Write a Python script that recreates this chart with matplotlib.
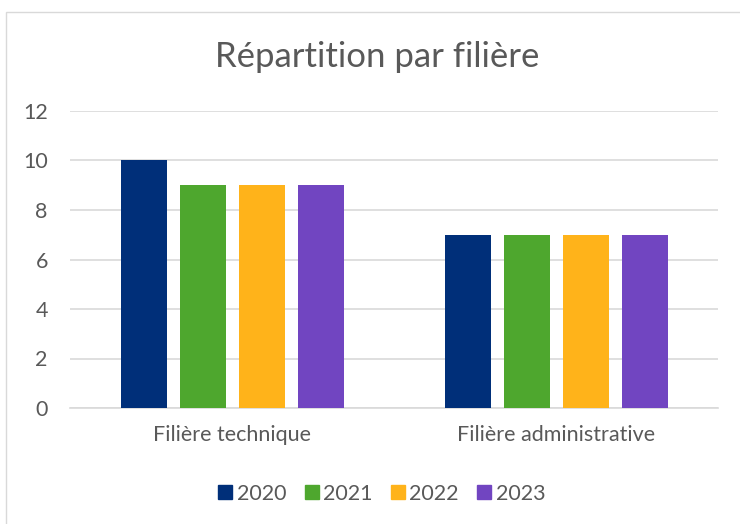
import matplotlib
matplotlib.use("Agg")
import matplotlib.pyplot as plt
import numpy as np
from matplotlib.patches import Rectangle
from matplotlib.lines import Line2D

categories = ["Filière technique", "Filière administrative"]
years = ["2020", "2021", "2022", "2023"]
values = {
    "2020": [10, 7],
    "2021": [9, 7],
    "2022": [9, 7],
    "2023": [9, 7],
}
colors = ["#002F79", "#4EA72E", "#FFB31A", "#7145C1"]
yticks = [0, 2, 4, 6, 8, 10, 12]

plt.rcParams['font.family'] = ['Lato', 'DejaVu Sans']
W, H = 740, 524
fig = plt.figure(figsize=(W/100, H/100), dpi=100)

# chart border
fig.patches.append(Rectangle((6/W, -0.1), 2.0, (1 - 12/H) + 0.1, transform=fig.transFigure,
                             fill=False, edgecolor="#D9D9D9", linewidth=1.0))

x0, x1 = 70, 718
y0, y12 = 408, 111
ax = fig.add_axes([x0/W, (H - y0)/H, (x1 - x0)/W, (y0 - y12)/H])

x = np.arange(len(categories))
bw = 46/324
step = 59/324
for i, (yr, c) in enumerate(zip(years, colors)):
    ax.bar(x + (i - 1.5)*step, values[yr], width=bw, color=c, zorder=3, label=yr)

ax.set_xlim(-0.5, 1.5)
ax.set_ylim(0, 12)
ax.set_yticks(yticks)
ax.set_yticklabels([str(t) for t in yticks])
ax.set_xticks(x)
ax.set_xticklabels(categories)
ax.grid(axis='y', color="#D9D9D9", linewidth=1.2, zorder=0)
for s in ["top", "right", "left"]:
    ax.spines[s].set_visible(False)
ax.spines["bottom"].set_color("#D9D9D9")
ax.spines["bottom"].set_linewidth(1.2)
ax.tick_params(axis='both', length=0, labelsize=15.5, colors="#595959")
ax.tick_params(axis='y', pad=16)
ax.tick_params(axis='x', pad=12)

fig.text(377/W, 1 - 57/H, "Répartition par filière", ha="center", va="center",
         fontsize=25, color="#595959")

handles = [Line2D([], [], marker='s', linestyle='none', markersize=9.5, color=c) for c in colors]
fig.legend(handles, years, loc="center", bbox_to_anchor=(381/W, 1 - 494/H), ncol=4,
           frameon=False, fontsize=15.5, labelcolor="#595959", handletextpad=0.15,
           columnspacing=0.75, handlelength=0.8)

fig.savefig("out.png", dpi=100)
